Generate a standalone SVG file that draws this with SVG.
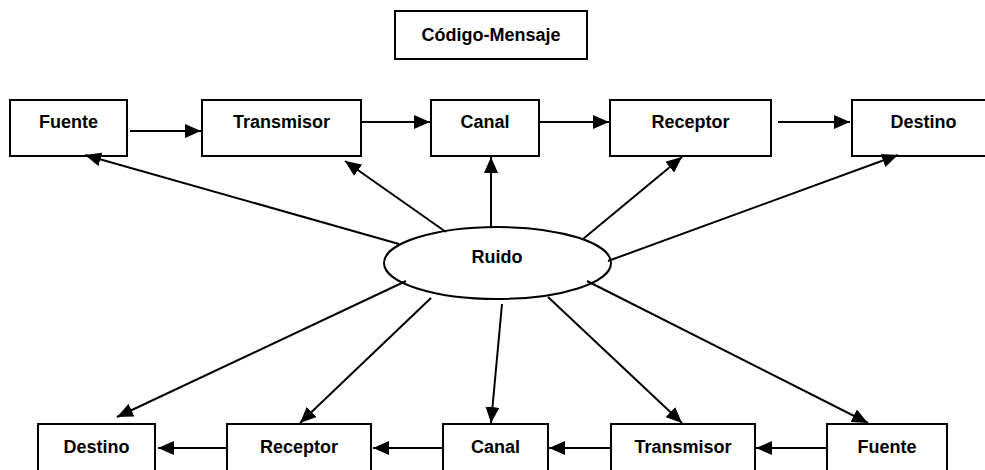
<svg xmlns="http://www.w3.org/2000/svg" width="985" height="470" viewBox="0 0 985 470">
<style>
.box{fill:#fff;stroke:#000;stroke-width:2}
.lbl{font-family:"Liberation Sans",Arial,sans-serif;font-weight:bold;font-size:18px;fill:#000;text-anchor:middle}
.con line{stroke:#000;stroke-width:2;marker-end:url(#ah)}
</style>
<defs>
<marker id="ah" markerUnits="userSpaceOnUse" markerWidth="16" markerHeight="14" refX="16" refY="7" orient="auto">
<path d="M0,0 L16,7 L0,14 z" fill="#000"/>
</marker>
</defs>
<rect width="985" height="470" fill="#fff"/>
<g id="codigo"><rect class="box" x="395" y="11" width="192" height="48"/><text class="lbl" x="491" y="41">Código-Mensaje</text></g>
<g id="fuente1"><rect class="box" x="10" y="100" width="117" height="56"/><text class="lbl" x="68.5" y="128">Fuente</text></g>
<g id="transmisor1"><rect class="box" x="202" y="100" width="159" height="56"/><text class="lbl" x="281.5" y="128">Transmisor</text></g>
<g id="canal1"><rect class="box" x="431" y="100" width="108" height="56"/><text class="lbl" x="485" y="128">Canal</text></g>
<g id="receptor1"><rect class="box" x="610" y="100" width="161" height="56"/><text class="lbl" x="690.5" y="128">Receptor</text></g>
<g id="destino1"><rect class="box" x="852" y="100" width="143" height="56"/><text class="lbl" x="923.5" y="128">Destino</text></g>
<g id="ruido"><ellipse class="box" cx="497.5" cy="263" rx="113.5" ry="36"/><text class="lbl" x="497" y="263">Ruido</text></g>
<g id="destino2"><rect class="box" x="38" y="424" width="117" height="56"/><text class="lbl" x="96.5" y="453">Destino</text></g>
<g id="receptor2"><rect class="box" x="227" y="424" width="144" height="56"/><text class="lbl" x="299" y="453">Receptor</text></g>
<g id="canal2"><rect class="box" x="443" y="424" width="105" height="56"/><text class="lbl" x="495.5" y="453">Canal</text></g>
<g id="transmisor2"><rect class="box" x="611" y="424" width="144" height="56"/><text class="lbl" x="683" y="453">Transmisor</text></g>
<g id="fuente2"><rect class="box" x="827" y="424" width="120" height="56"/><text class="lbl" x="887" y="453">Fuente</text></g>
<g id="connectors" class="con">
<line x1="130" y1="131" x2="201" y2="131"/>
<line x1="362" y1="122" x2="430" y2="122"/>
<line x1="540" y1="122" x2="609" y2="122"/>
<line x1="778" y1="122" x2="850" y2="122"/>
<line x1="399" y1="244" x2="85" y2="155"/>
<line x1="446" y1="232" x2="345" y2="161"/>
<line x1="491" y1="227" x2="491" y2="157"/>
<line x1="583" y1="239" x2="682" y2="157"/>
<line x1="608" y1="261" x2="898" y2="155"/>
<line x1="406" y1="281" x2="117" y2="417"/>
<line x1="431" y1="298" x2="300" y2="423"/>
<line x1="502" y1="304" x2="491" y2="423"/>
<line x1="548" y1="297" x2="682" y2="423"/>
<line x1="587" y1="281" x2="868" y2="423"/>
<line x1="227" y1="448" x2="158" y2="448"/>
<line x1="443" y1="448" x2="373" y2="448"/>
<line x1="611" y1="448" x2="549" y2="448"/>
<line x1="827" y1="448" x2="756" y2="448"/>
</g>
</svg>
